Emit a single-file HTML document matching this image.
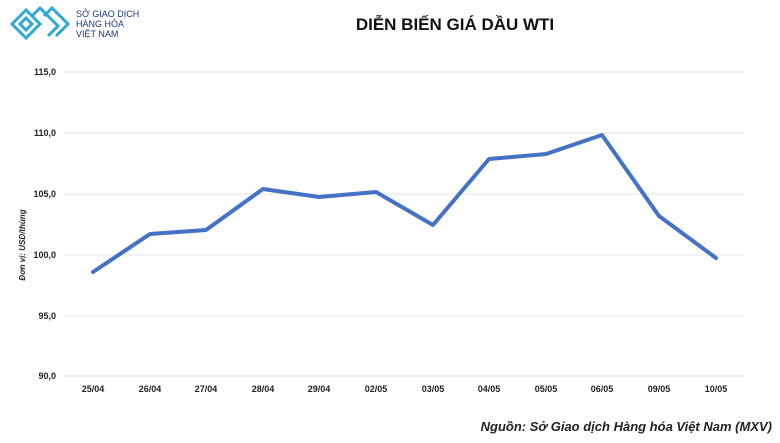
<!DOCTYPE html><html><head><meta charset="utf-8"><style>
body{margin:0;background:#fff;width:780px;height:438px;overflow:hidden;font-family:"Liberation Sans",sans-serif}
</style></head><body>
<svg width="780" height="438" xmlns="http://www.w3.org/2000/svg" font-family="Liberation Sans, sans-serif">
<g fill="none" stroke="#2fa8d8" stroke-width="3">
<path d="M12 24 L26 10 L40 24 L26 38 Z"/><path d="M20 24 L26 18 L32 24 L26 30 Z"/>
<path d="M32 16 L40 8 L58 26 L48 36"/><path d="M44 16 L52 8 L68 24 L56 36"/>
</g>
<g font-size="9" fill="#1a3a7a"><text x="76" y="17">SỞ GIAO DỊCH</text><text x="76" y="27">HÀNG HÓA</text><text x="76" y="37">VIỆT NAM</text></g>
<text x="455" y="30" font-size="17" font-weight="bold" text-anchor="middle" fill="#111">DIỄN BIẾN GIÁ DẦU WTI</text>
<g stroke="#e6e6e6" stroke-width="1">
<line x1="64" x2="745" y1="72" y2="72"/><line x1="64" x2="745" y1="133" y2="133"/><line x1="64" x2="745" y1="194" y2="194"/><line x1="64" x2="745" y1="255" y2="255"/><line x1="64" x2="745" y1="316" y2="316"/><line x1="64" x2="745" y1="376" y2="376" stroke="#d8d8d8"/>
</g>
<g font-size="9" font-weight="bold" fill="#222" text-anchor="end">
<text x="56" y="75">115,0</text><text x="56" y="136">110,0</text><text x="56" y="197">105,0</text><text x="56" y="258">100,0</text><text x="56" y="319">95,0</text><text x="56" y="379">90,0</text>
</g>
<text transform="translate(25,245) rotate(-90)" font-size="8" font-style="italic" font-weight="bold" fill="#222" text-anchor="middle">Đơn vị: USD/thùng</text>
<g font-size="9" font-weight="bold" fill="#222" text-anchor="middle">
<text x="93" y="392">25/04</text><text x="150" y="392">26/04</text><text x="206" y="392">27/04</text><text x="263" y="392">28/04</text><text x="319" y="392">29/04</text><text x="376" y="392">02/05</text><text x="433" y="392">03/05</text><text x="489" y="392">04/05</text><text x="546" y="392">05/05</text><text x="602" y="392">06/05</text><text x="659" y="392">09/05</text><text x="716" y="392">10/05</text>
</g>
<polyline fill="none" stroke="#4472c4" stroke-width="4" stroke-linejoin="round" stroke-linecap="round" points="93,272 150,234 206,230 263,189 319,197 376,192 433,225 489,159 546,154 602,135 659,216 716,258"/>
<text x="772" y="431" font-size="13" font-style="italic" font-weight="bold" fill="#222" text-anchor="end">Nguồn: Sở Giao dịch Hàng hóa Việt Nam (MXV)</text>
</svg>
</body></html>
